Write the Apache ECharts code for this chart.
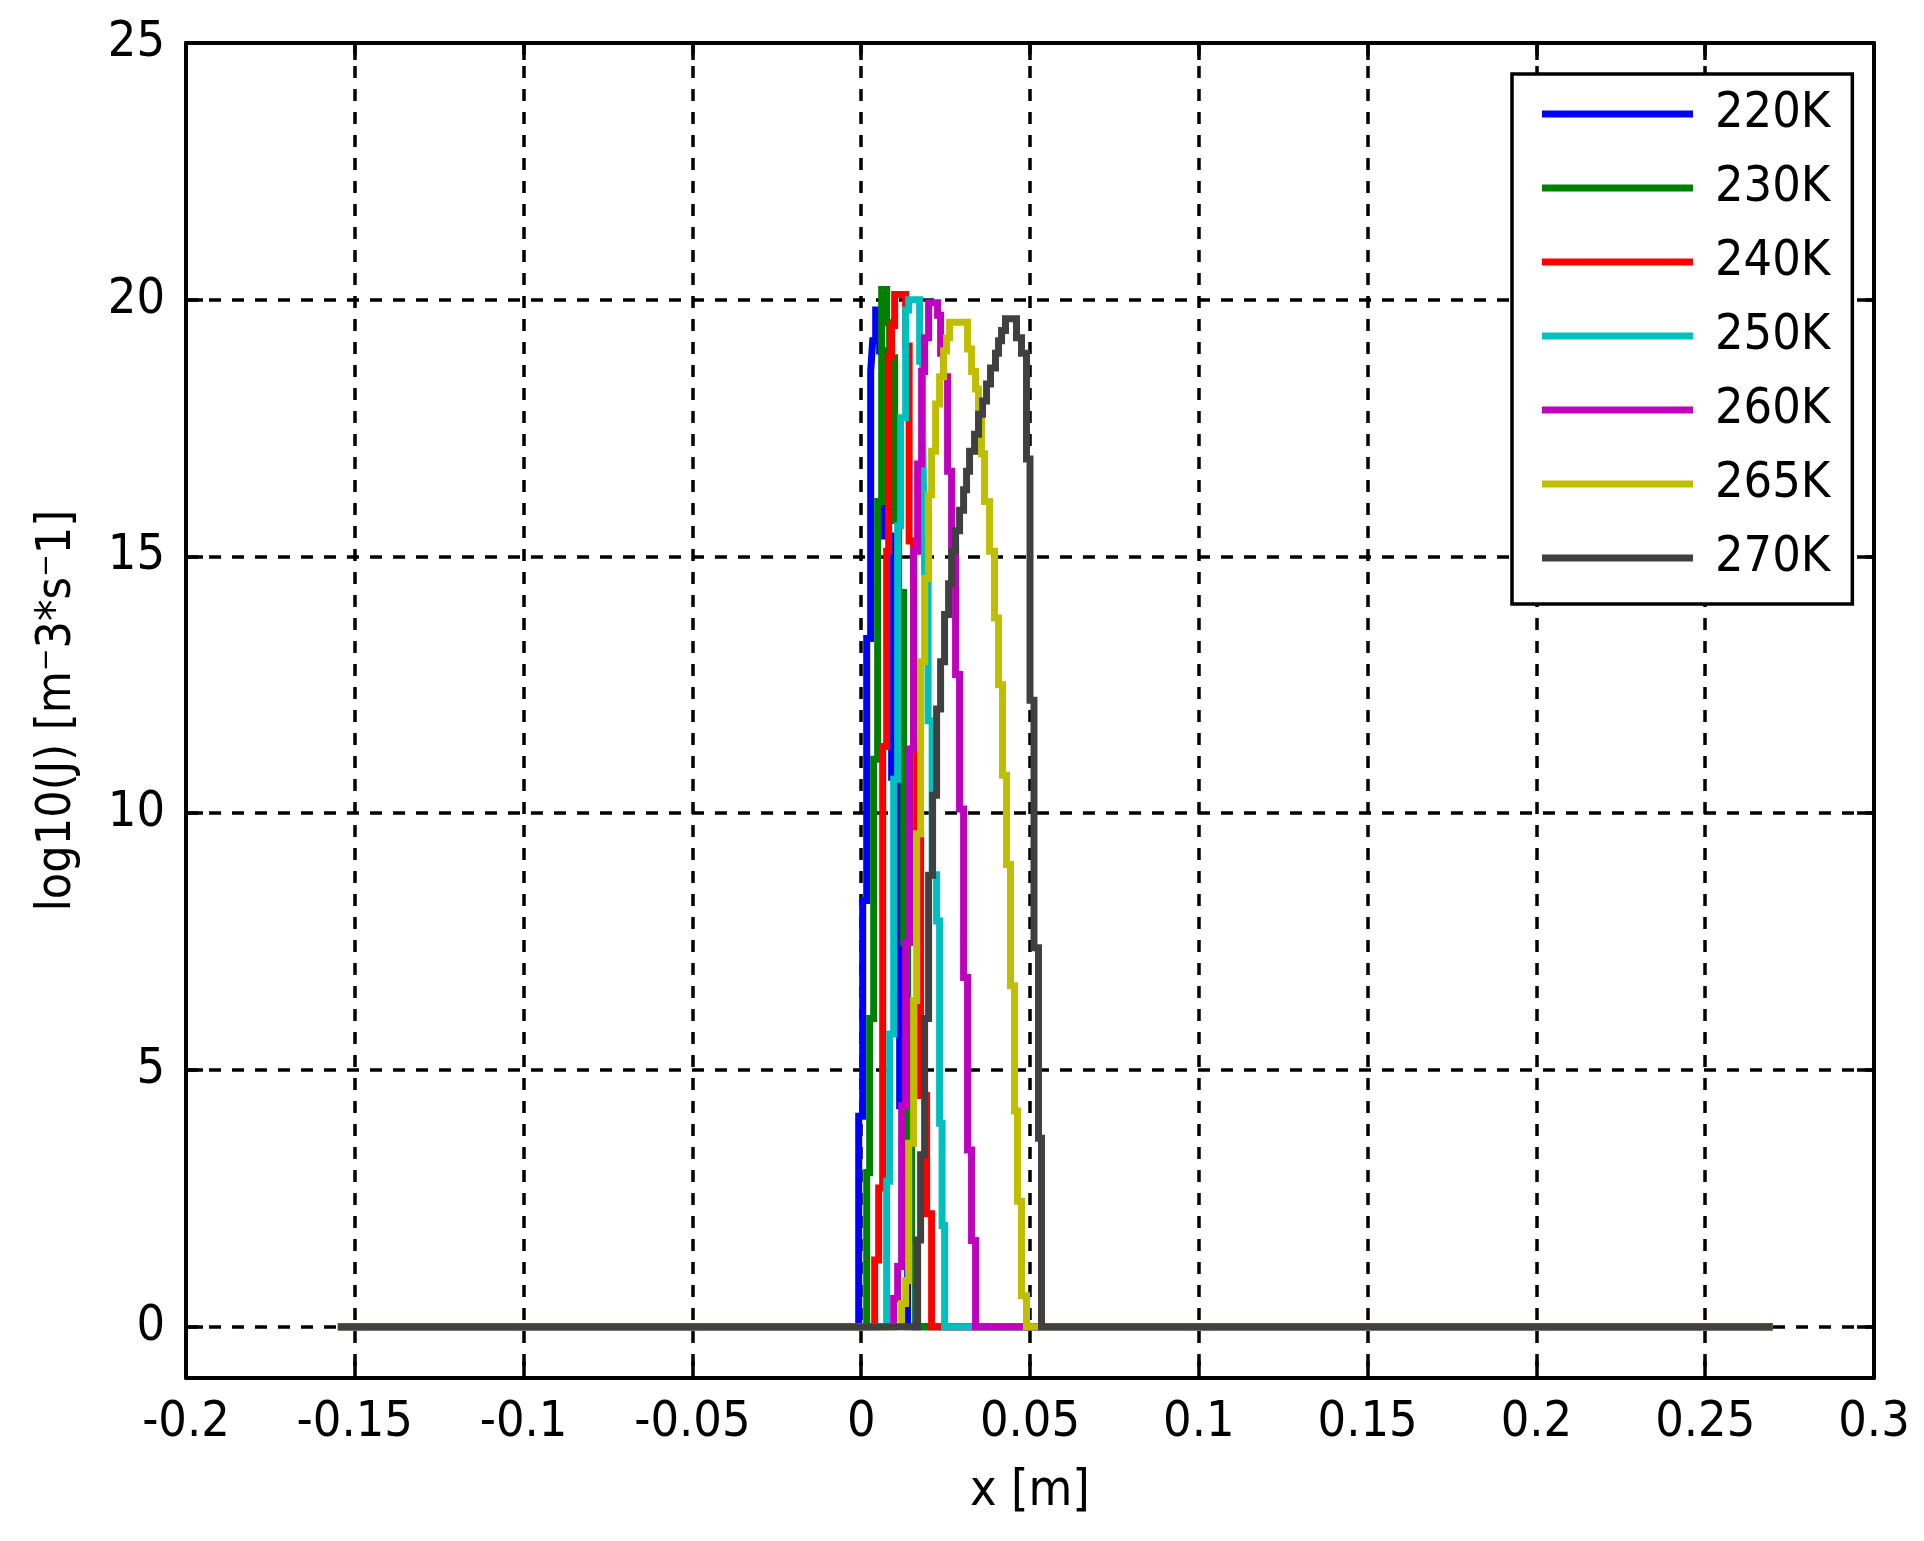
<!DOCTYPE html>
<html>
<head>
<meta charset="utf-8">
<title>log10(J) vs x</title>
<script src="https://cdn.jsdelivr.net/npm/echarts@6/dist/echarts.min.js"></script>
<style>
  html, body { margin: 0; padding: 0; background: #fff; }
  #chart { width: 1924px; height: 1541px; }
</style>
</head>
<body>
<div id="chart"></div>
<script>
// baseline that every curve runs along (m)
const xSpan = [-0.155, 0.27];

const names = ['220K', '230K', '240K', '250K', '260K', '265K', '270K'];
const colors = ['#0000ff', '#008000', '#ff0000', '#00bfbf', '#bf00bf', '#bfbf00', '#404040'];

// staircase steps: x position (m) and the level the curve reaches there
const x220 = [-0.00074, 0.00044, 0.00163, 0.00281, 0.00340, 0.00429, 0.00547, 0.00666, 0.00902, 0.01139, 0.01257, 0.01376];
const y220 = [4.1, 8.3, 13.4, 18.6, 19.2, 19.8, 19.0, 15.4, 10.7, 4.3, 1.2, 0];

const x230 = [0.00163, 0.00251, 0.00370, 0.00488, 0.00607, 0.00754, 0.00843, 0.00991, 0.01109, 0.01257, 0.01376, 0.01494, 0.01612];
const y230 = [3.0, 6.0, 11.05, 16.07, 20.2, 19.55, 18.87, 15.7, 14.3, 7.48, 3.6, 1.68, 0];

const x240 = [0.00399, 0.00518, 0.00636, 0.00754, 0.00814, 0.00902, 0.00991, 0.01317, 0.01420, 0.01553, 0.01642, 0.01760, 0.01938, 0.02086];
const y240 = [1.3, 2.7, 11.3, 15.1, 18.9, 19.5, 20.1, 19.1, 15.3, 11.3, 9.6, 4.5, 2.2, 0];

const x250 = [0.00754, 0.00843, 0.00962, 0.01080, 0.01169, 0.01317, 0.01405, 0.01731, 0.01820, 0.01879, 0.01982, 0.02101, 0.02234, 0.02322, 0.02396, 0.02470];
const y250 = [2.83, 5.7, 10.66, 15.6, 17.7, 19.8, 20.0, 18.8, 17.5, 14.7, 11.8, 8.8, 7.9, 3.96, 1.97, 0];

const x260 = [0.00962, 0.01080, 0.01198, 0.01317, 0.01435, 0.01553, 0.01672, 0.01790, 0.01879, 0.01997,
  0.02263, 0.02352, 0.02441, 0.02559, 0.02678, 0.02796, 0.02914, 0.03033, 0.03151, 0.03269, 0.03388];
const y260 = [0.55, 1.17, 4.3, 7.48, 11.25, 15.1, 16.8, 18.6, 19.26, 19.94,
  19.7, 18.96, 18.5, 16.66, 15.16, 12.7, 10.08, 6.8, 3.44, 1.68, 0];

const x265 = [0.01198, 0.01317, 0.01405, 0.01553, 0.01642, 0.01760, 0.01879, 0.01997, 0.02086, 0.02204, 0.02322, 0.02441, 0.02530, 0.02618,
  0.03151, 0.03269, 0.03388, 0.03476, 0.03565, 0.03654, 0.03802, 0.03950, 0.04068, 0.04186, 0.04305, 0.04423, 0.04541, 0.04630, 0.04749, 0.04896];
const y265 = [0.45, 0.9, 3.57, 6.35, 9.6, 12.95, 14.57, 16.2, 17.05, 17.97, 18.5, 19.0, 19.26, 19.56,
  19.04, 18.6, 18.26, 17.7, 17.0, 16.07, 15.1, 13.8, 12.5, 10.74, 9.0, 6.64, 4.2, 2.44, 0.6, 0];

const x270 = [0.01672, 0.01760, 0.01879, 0.01997, 0.02115, 0.02234, 0.02352, 0.02470, 0.02589, 0.02678, 0.02796, 0.02914,
  0.03033, 0.03121, 0.03210, 0.03358, 0.03476, 0.03595, 0.03713, 0.03831, 0.03979, 0.04068, 0.04157, 0.04275,
  0.04601, 0.04749, 0.04896, 0.05000, 0.05118, 0.05251, 0.05340];
const y270 = [1.69, 3.35, 6.0, 8.79, 10.35, 12.03, 12.95, 13.87, 14.47, 15.1, 15.5, 15.9,
  16.3, 16.66, 17.05, 17.38, 17.77, 18.03, 18.36, 18.67, 18.96, 19.2, 19.4, 19.63,
  19.26, 18.96, 16.9, 12.2, 7.38, 3.67, 0];

const yTicks = [0, 5, 10, 15, 20, 25];

const curves = [[x220, y220], [x230, y230], [x240, y240], [x250, y250], [x260, y260], [x265, y265], [x270, y270]];

const font = '"DejaVu Sans Condensed", "DejaVu Sans", sans-serif';

function stepData(xs, ys) {
    const d = [[xSpan[0], 0]];
    xs.forEach((x, i) => d.push([x, ys[i]]));
    d.push([xSpan[1], 0]);
    return d;
}

// box border, inward ticks and dashed grid like the original plot
const axisLine = { show: true, onZero: false, lineStyle: { color: '#000', width: 4 } };
const tick = { show: true, inside: true, length: 17, lineStyle: { color: '#000', width: 3.5 } };
const dashed = { show: true, lineStyle: { color: '#000', width: 3.5, type: [12, 11] } };

const myChart = echarts.init(document.getElementById('chart'));

const option = {
    animation: false,
    backgroundColor: '#fff',
    grid: { left: 186, right: 50, top: 43, bottom: 163, containLabel: false },
    legend: {
        orient: 'vertical',
        left: 1512,
        top: 74,
        icon: 'rect',
        itemWidth: 151,
        itemHeight: 7,
        itemGap: 24,
        padding: [15, 22, 21, 30],
        borderColor: '#000',
        borderWidth: 3.5,
        backgroundColor: '#fff',
        textStyle: { fontFamily: font, fontSize: 50, lineHeight: 50, color: '#000', padding: [0, 0, 0, 17] },
        data: names
    },
    xAxis: [
        {
            type: 'value', position: 'bottom',
            min: -0.2, max: 0.3, interval: 0.05,
            name: 'x [m]', nameLocation: 'middle', nameGap: 89,
            nameTextStyle: { fontFamily: font, fontSize: 50, lineHeight: 50, color: '#000' },
            axisLine: axisLine, axisTick: tick, splitLine: dashed,
            axisLabel: {
                fontFamily: font, fontSize: 50, color: '#000', margin: 20,
                formatter: v => String(parseFloat(v.toFixed(3)))
            }
        },
        {
            type: 'value', position: 'top',
            min: -0.2, max: 0.3, interval: 0.05,
            axisLine: axisLine, axisTick: tick,
            axisLabel: { show: false }, splitLine: { show: false }
        }
    ],
    yAxis: [
        {
            type: 'value', position: 'left',
            min: -1, max: 25,
            name: 'log10(J) [m⁻3*s⁻1]', nameLocation: 'middle', nameGap: 103,
            nameTextStyle: { fontFamily: font, fontSize: 48, lineHeight: 50, color: '#000' },
            axisLine: axisLine,
            axisTick: Object.assign({ customValues: yTicks }, tick),
            splitLine: dashed,
            axisLabel: { customValues: yTicks, fontFamily: font, fontSize: 50, color: '#000', margin: 21 }
        },
        {
            type: 'value', position: 'right',
            min: -1, max: 25,
            axisLine: axisLine,
            axisTick: Object.assign({ customValues: yTicks }, tick),
            axisLabel: { show: false }, splitLine: { show: false }
        }
    ],
    series: curves.map((c, i) => ({
        name: names[i],
        type: 'line',
        step: 'end',
        symbol: 'none',
        color: colors[i],
        lineStyle: { width: 7, color: colors[i], cap: 'butt', join: 'miter' },
        data: stepData(c[0], c[1])
    }))
};

myChart.setOption(option);
</script>
</body>
</html>
